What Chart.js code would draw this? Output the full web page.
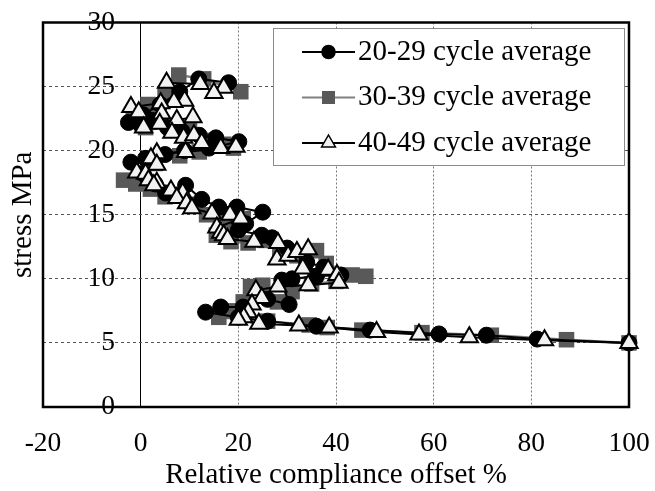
<!DOCTYPE html>
<html>
<head>
<meta charset="utf-8">
<script src="https://cdn.jsdelivr.net/npm/chart.js@4.4.1/dist/chart.umd.min.js"></script>
<style>
  html, body { margin: 0; padding: 0; background: #fff; }
  #chart { display: block; }
</style>
</head>
<body>
<canvas id="chart" width="655" height="491"></canvas>
<script>
// Series labels
const seriesLabels = ['20-29 cycle average', '30-39 cycle average', '40-49 cycle average'];

// 20-29 cycle average (top of the curve first)
const offset2029 = [
  18.0, 11.9, 8.0, 4.0, 0.5, -2.5,
  0.0, 3.0, 5.5, 8.5, 12.0, 15.4, 20.1,
  14.0, 9.0, 5.0, 1.0, -2.0,
  0.5, 3.0, 5.1, 9.2, 12.5, 16.0, 19.7, 25.0,
  21.5, 20.0, 24.8, 26.9,
  30.0, 34.0, 37.5, 41.0,
  36.0, 31.0, 28.9, 30.4, 26.0, 21.0, 16.4, 13.3,
  20.0, 26.0, 36.0, 47.0, 61.1, 70.8, 81.2, 100
];
const stress2029 = [
  25.3, 25.6, 24.6, 23.6, 22.8, 22.2,
  22.0, 22.3, 21.8, 21.5, 21.2, 21.0, 20.7,
  20.2, 20.0, 19.7, 19.4, 19.1,
  18.2, 17.4, 16.7, 17.3, 16.2, 15.6, 15.6, 15.2,
  14.3, 13.8, 13.4, 13.2,
  12.4, 11.3, 10.9, 10.3,
  10.2, 10.0, 9.9, 8.0, 8.4, 7.8, 7.8, 7.4,
  7.0, 6.7, 6.3, 6.0, 5.7, 5.6, 5.3, 5.0
];

// 30-39 cycle average
const offset3039 = [
  20.5, 12.9, 7.8, 5.0, 1.5, -1.5,
  1.0, 4.0, 7.0, 10.0, 13.0, 17.0, 19.0,
  12.0, 8.0, 3.0, 0.0, -3.5,
  -1.0, 2.0, 5.0, 8.0, 10.5, 13.5, 17.0, 21.0,
  18.5, 15.5, 18.5, 22.0, 25.5,
  28.5, 32.0, 36.0, 38.0, 43.3, 46.1,
  40.0, 35.0, 31.0, 28.0, 25.0, 22.5, 21.0, 18.0, 16.0,
  26.0, 34.5, 38.2, 45.3, 57.6, 71.8, 87.2, 100
];
const stress3039 = [
  24.6, 25.6, 25.9, 24.4, 23.6, 22.5,
  21.8, 22.4, 21.6, 21.6, 20.8, 20.5, 20.2,
  19.9, 19.6, 19.0, 18.3, 17.7,
  17.4, 17.0, 16.4, 16.5, 15.8, 15.0, 14.9, 14.7,
  14.0, 13.4, 12.9, 12.8, 13.0,
  12.3, 11.8, 12.2, 11.2, 10.3, 10.2,
  9.8, 9.6, 9.0, 8.2, 9.5, 9.4, 8.2, 7.5, 7.0,
  6.7, 6.4, 6.2, 6.0, 5.8, 5.6, 5.25, 5.0
];

// 40-49 cycle average
const offset4049 = [
  17.0, 15.0, 12.2, 5.3, 9.0, 6.8, 4.1, -2.0,
  -0.4, 4.3, 0.6, 3.9, 7.4, 10.7, 6.4, 8.8, 10.9, 12.5, 16.4, 19.5,
  9.2, 3.3, 2.1, 3.3, -0.8,
  1.0, 1.6, 3.3, 2.7, 6.2, 8.6, 7.4, 9.4, 10.5, 14.6, 18.3, 20.5,
  15.6, 16.4, 17.0, 17.8,
  23.2, 28.1, 27.9, 30.2, 32.0, 34.3, 33.2, 38.4, 40.2, 40.6,
  34.3, 28.1, 23.6, 24.8, 22.8, 22.0, 21.1, 20.0,
  24.2, 32.4, 38.6, 48.3, 57.0, 67.3, 82.7, 100
];
const stress4049 = [
  24.9, 24.5, 25.2, 25.3, 23.9, 23.8, 23.7, 23.4,
  23.0, 22.9, 21.8, 22.1, 22.4, 22.6, 21.4, 21.0, 21.2, 20.6, 20.2, 20.3,
  19.9, 19.8, 19.4, 18.9, 18.3,
  18.2, 17.7, 17.5, 17.3, 16.9, 16.7, 16.3, 15.9, 15.5, 15.1, 15.0, 14.7,
  14.0, 13.6, 13.4, 13.1,
  12.9, 12.8, 11.5, 11.8, 12.1, 12.3, 10.8, 10.7, 10.3, 9.7,
  9.5, 9.4, 9.1, 8.5, 8.0, 7.4, 7.0, 6.8,
  6.5, 6.35, 6.2, 5.85, 5.65, 5.45, 5.2, 5.0
];

// Axis ticks
const xTicks = [-20, 0, 20, 40, 60, 80, 100];
const yTicks = [0, 5, 10, 15, 20, 25, 30];

const serif = "'Liberation Serif', 'Times New Roman', serif";
Chart.defaults.font.family = serif;
Chart.defaults.color = '#000';

const toPoints = (xs, ys) => xs.map((x, i) => ({ x: x, y: ys[i] }));

// legend marker shapes (same geometry as Chart.js point styles)
function drawMarker(ctx, style, x, y, r) {
    ctx.beginPath();
    if (style === 'circle') {
        ctx.arc(x, y, r, 0, Math.PI * 2);
    } else if (style === 'rect') {
        const s = r * Math.SQRT1_2;
        ctx.rect(x - s, y - s, 2 * s, 2 * s);
    } else {
        ctx.moveTo(x, y - r);
        ctx.lineTo(x + r * 0.866, y + r / 2);
        ctx.lineTo(x - r * 0.866, y + r / 2);
        ctx.closePath();
    }
    ctx.fill();
}

// Thick frame round the plot area
const framePlugin = {
    id: 'frame',
    beforeDatasetsDraw(chart) {
        const { ctx, chartArea: a } = chart;
        ctx.save();
        ctx.lineWidth = 2.5;
        ctx.strokeStyle = '#000';
        ctx.strokeRect(a.left, a.top, a.right - a.left, a.bottom - a.top);
        ctx.restore();
    }
};

// Boxed legend inside the plot area, top right
const legendSizes = { circle: 6.5, rect: 9.2, triangle: 8 };
const boxLegendPlugin = {
    id: 'boxLegend',
    afterDatasetsDraw(chart) {
        const { ctx, chartArea: a } = chart;
        const x0 = a.right - 356;
        const y0 = a.top + 5.5;
        ctx.save();
        ctx.fillStyle = '#fff';
        ctx.fillRect(x0, y0, 351, 137);
        ctx.strokeStyle = '#8c8c8c';
        ctx.lineWidth = 1;
        ctx.strokeRect(x0 + 0.5, y0 + 0.5, 351, 137);
        chart.data.datasets.forEach((ds, i) => {
            const cy = y0 + 24 + i * 45.5;
            const lx = x0 + 29;
            ctx.strokeStyle = ds.borderColor;
            ctx.lineWidth = 2;
            ctx.beginPath();
            ctx.moveTo(lx, cy);
            ctx.lineTo(lx + 53, cy);
            ctx.stroke();
            ctx.fillStyle = ds.pointBackgroundColor;
            drawMarker(ctx, ds.pointStyle, lx + 26.5, cy, legendSizes[ds.pointStyle]);
            if (ds.pointBorderWidth) {
                ctx.strokeStyle = ds.pointBorderColor;
                ctx.lineWidth = 1.5;
                ctx.stroke();
            }
            ctx.fillStyle = '#000';
            ctx.font = '29px ' + serif;
            ctx.textAlign = 'left';
            ctx.textBaseline = 'middle';
            ctx.fillText(ds.label, lx + 56, cy);
        });
        ctx.restore();
    }
};

const ctx = document.getElementById('chart');
new Chart(ctx, {
    type: 'scatter',
    data: {
        datasets: [{
            label: seriesLabels[0],
            data: toPoints(offset2029, stress2029),
            showLine: true,
            borderColor: '#000',
            borderWidth: 2,
            pointStyle: 'circle',
            pointRadius: 8,
            pointHoverRadius: 8,
            pointBackgroundColor: '#000',
            pointBorderColor: '#000',
            pointBorderWidth: 1,
            clip: false,
            order: 1
        }, {
            label: seriesLabels[1],
            data: toPoints(offset3039, stress3039),
            showLine: true,
            borderColor: '#808080',
            borderWidth: 2.5,
            pointStyle: 'rect',
            pointRadius: 11,
            pointHoverRadius: 11,
            pointBackgroundColor: '#595959',
            pointBorderColor: '#595959',
            pointBorderWidth: 0,
            clip: false,
            order: 2
        }, {
            label: seriesLabels[2],
            data: toPoints(offset4049, stress4049),
            showLine: true,
            borderColor: '#000',
            borderWidth: 2,
            pointStyle: 'triangle',
            pointRadius: 10,
            pointHoverRadius: 10,
            pointBackgroundColor: '#f2f2f2',
            pointBorderColor: '#000',
            pointBorderWidth: 2,
            clip: false,
            order: 0
        }]
    },
    options: {
        responsive: false,
        animation: false,
        devicePixelRatio: 1,
        layout: { padding: { top: 22.5, right: 26, bottom: 0, left: 0 } },
        elements: { line: { tension: 0 } },
        plugins: {
            legend: { display: false },
            tooltip: { enabled: false }
        },
        scales: {
            x: {
                type: 'linear',
                min: -20,
                max: 100,
                afterBuildTicks: (scale) => { scale.ticks = xTicks.map(v => ({ value: v })); },
                afterFit: (scale) => {
                    scale.height = 84;
                    scale.paddingLeft = 0;
                    scale.paddingRight = 0;
                },
                grid: {
                    drawTicks: false,
                    lineWidth: 1,
                    color: (c) => {
                        const v = c.tick ? c.tick.value : null;
                        if (v === -20 || v === 100) return 'rgba(0,0,0,0)';
                        return v === 0 ? '#000' : '#7a7a7a';
                    }
                },
                border: {
                    display: false,
                    dash: (c) => (c.tick && c.tick.value === 0) ? [] : [2, 2]
                },
                ticks: {
                    color: '#000',
                    font: { size: 27.5 },
                    padding: 20.5,
                    maxRotation: 0,
                    autoSkip: false
                },
                title: {
                    display: true,
                    text: 'Relative compliance offset %',
                    color: '#000',
                    font: { size: 29, lineHeight: 1 },
                    padding: { top: 0, bottom: 1.5 }
                }
            },
            y: {
                type: 'linear',
                min: 0,
                max: 30,
                afterBuildTicks: (scale) => { scale.ticks = yTicks.map(v => ({ value: v })); },
                afterFit: (scale) => {
                    scale.width = 43;
                    scale.paddingTop = 0;
                    scale.paddingBottom = 0;
                },
                grid: {
                    drawTicks: false,
                    lineWidth: 1,
                    color: (c) => {
                        const v = c.tick ? c.tick.value : null;
                        return (v === 0 || v === 30) ? 'rgba(0,0,0,0)' : '#555';
                    }
                },
                border: {
                    display: false,
                    dash: [3, 3]
                },
                ticks: {
                    color: '#000',
                    font: { size: 27.5 },
                    mirror: true,
                    crossAlign: 'far',
                    padding: 44.5,
                    autoSkip: false
                },
                title: {
                    display: true,
                    text: 'stress MPa',
                    color: '#000',
                    font: { size: 29, lineHeight: 1 },
                    padding: { top: 8.5, bottom: 0 }
                }
            }
        }
    },
    plugins: [framePlugin, boxLegendPlugin]
});
</script>
</body>
</html>
